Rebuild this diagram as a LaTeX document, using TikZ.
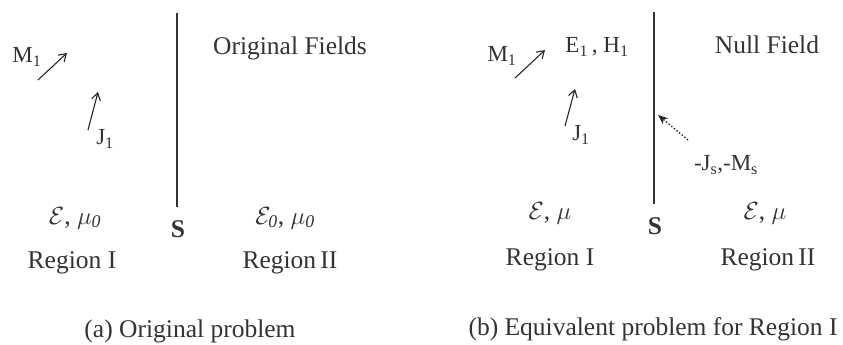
\documentclass[tikz,border=0pt]{standalone}
\usepackage{fontspec}
\setmainfont{Liberation Serif}
\usetikzlibrary{arrows.meta}
\begin{document}
\begin{tikzpicture}[x=1pt,y=-1pt,
  lbl/.style={font=\fontsize{25.5}{30}\selectfont, text=black!80, inner sep=0pt},
  sml/.style={font=\fontsize{23}{27}\selectfont, text=black!80, inner sep=0pt},
  surf/.style={line width=1.3pt, black!80},
  src/.style={line width=1.1pt, black!85, -{Straight Barb[length=7pt,width=9pt,line width=1.1pt]}},
  eqv/.style={line width=1.4pt, black!85, dotted, -{Stealth[length=10pt,width=8pt]}}]
\useasboundingbox (0,0) rectangle (843,345);
\fill[white] (0,0) rectangle (843,345);
% ---------- (a) ----------
\coordinate (sa1) at (177,13);
\coordinate (sa2) at (177,207);
\draw[surf] (sa1) -- (sa2);
\node[lbl, font=\fontsize{25.5}{30}\selectfont\bfseries] (Sa) at (178,229) {S};
\node[lbl] (ofa) at (290,48) {Original Fields};
\node[sml] (Ma) at (27,57) {M\textsubscript{1}};
\coordinate (ma1) at (38,80); \coordinate (ma2) at (67,53);
\draw[src] (ma1) -- (ma2);
\coordinate (ja1) at (88,130); \coordinate (ja2) at (98,92);
\draw[src] (ja1) -- (ja2);
\node[sml] (Ja) at (105,139) {J\textsubscript{1}};
\node[lbl] (epa) at (75,218) {$\mathcal{E}$, $\mu_{\mathit{0}}$};
\node[lbl] (epb) at (285,218) {$\mathcal{E}_{\mathit{0}}$, $\mu_{\mathit{0}}$};
\node[lbl] (ra1) at (72,263) {Region I};
\node[lbl] (ra2) at (290,263) {Region\,II};
\node[lbl] (capa) at (190,331) {(a) Original problem};
% ---------- (b) ----------
\coordinate (sb1) at (654,12);
\coordinate (sb2) at (654,204);
\draw[surf] (sb1) -- (sb2);
\node[lbl, font=\fontsize{25.5}{30}\selectfont\bfseries] (Sb) at (655,226) {S};
\node[lbl] (nf) at (767,45) {Null Field};
\node[sml] (Mb) at (502,56) {M\textsubscript{1}};
\coordinate (mb1) at (515,78); \coordinate (mb2) at (545,50);
\draw[src] (mb1) -- (mb2);
\node[sml] (EH) at (597,47) {E\textsubscript{1}\,, H\textsubscript{1}};
\coordinate (jb1) at (565,126); \coordinate (jb2) at (575,89);
\draw[src] (jb1) -- (jb2);
\node[sml] (Jb) at (581,135) {J\textsubscript{1}};
\coordinate (db1) at (688,140); \coordinate (db2) at (658,115);
\draw[eqv] (db1) -- (db2);
\node[sml] (JM) at (726,165) {-J\textsubscript{s},-M\textsubscript{s}};
\node[lbl] (epc) at (550,213) {$\mathcal{E}$, $\mu$};
\node[lbl] (epd) at (765,213) {$\mathcal{E}$, $\mu$};
\node[lbl] (rb1) at (550,260) {Region I};
\node[lbl] (rb2) at (768,260) {Region\,II};
\node[lbl] (capb) at (653,329) {(b) Equivalent problem for Region I};
\end{tikzpicture}
\end{document}
